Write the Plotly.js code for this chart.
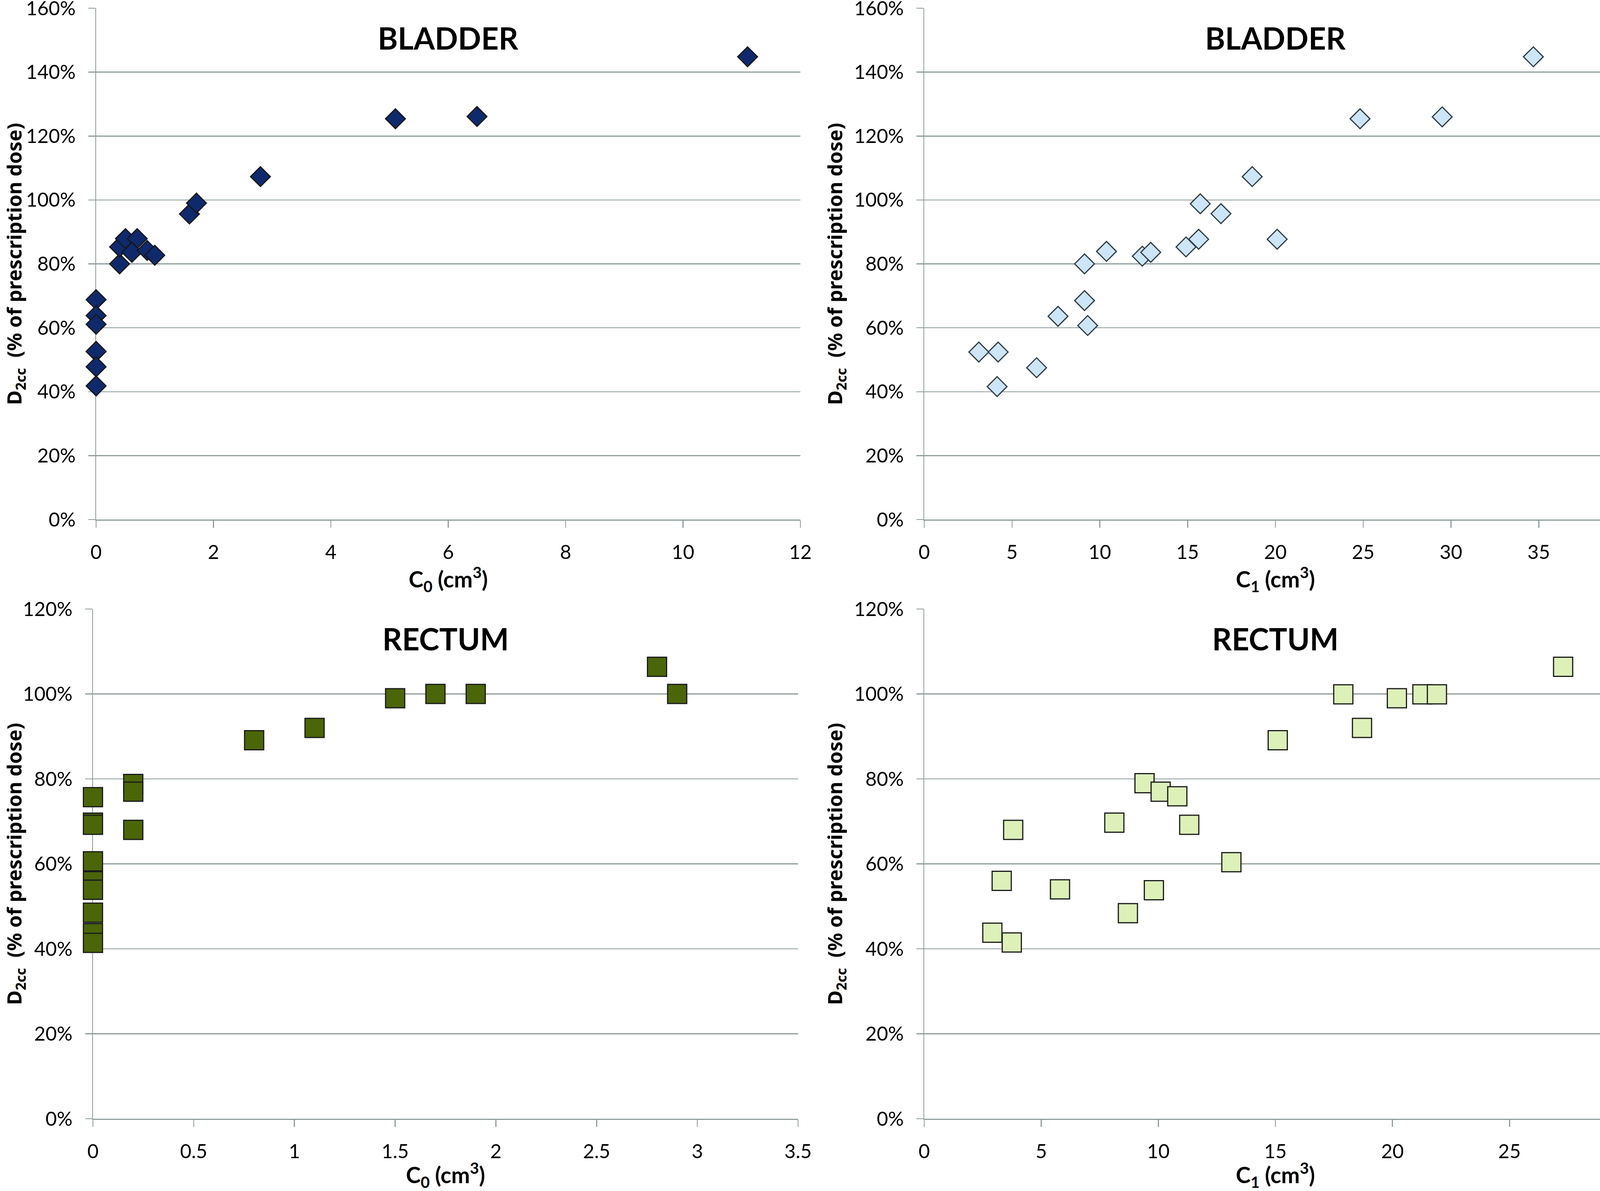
<!DOCTYPE html>
<html>
<head>
<meta charset="utf-8">
<script src="https://cdn.plot.ly/plotly-3.0.1.min.js"></script>
<style>html,body{margin:0;padding:0;background:#fff;}#chart{width:4199px;height:3049px;}</style>
</head>
<body>
<div id="chart"></div>
<script>
// Bladder: D2cc (% of prescription dose) vs C0 and C1 (cm3)
var bladderC0 = [0, 0, 0, 0, 0, 0, 0, 0.40, 0.40, 0.50, 0.70, 0.61, 0.87, 1.00, 1.59, 1.71, 2.80, 5.10, 6.49, 11.10];
var bladderD_C0 = [68.8, 63.8, 61.1, 52.6, 52.6, 47.8, 41.8, 80.0, 85.3, 87.9, 87.9, 83.6, 84.2, 82.7, 95.6, 99.0, 107.3, 125.4, 126.1, 144.8];
var bladderC1 = [3.11, 4.21, 4.15, 6.40, 7.62, 9.13, 9.13, 9.31, 10.38, 12.42, 12.90, 14.91, 15.63, 15.72, 16.90, 18.68, 20.10, 24.82, 29.50, 34.69];
var bladderD_C1 = [52.4, 52.4, 41.6, 47.5, 63.6, 80.0, 68.5, 60.7, 83.9, 82.4, 83.6, 85.3, 87.7, 98.8, 95.7, 107.3, 87.7, 125.4, 126.0, 144.8];

// Rectum: D2cc (% of prescription dose) vs C0 and C1 (cm3)
var rectumC0 = [0, 0, 0, 0, 0, 0, 0, 0, 0, 0, 0.2, 0.2, 0.2, 0.8, 1.1, 1.5, 1.7, 1.9, 2.8, 2.9];
var rectumD_C0 = [75.7, 69.7, 69.2, 60.6, 55.9, 53.9, 53.9, 48.5, 43.7, 41.4, 78.8, 77.0, 68.0, 89.1, 92.0, 99.0, 100, 100, 106.4, 100];
var rectumC1 = [27.29, 17.90, 20.19, 21.28, 21.90, 18.70, 15.10, 9.41, 10.10, 10.81, 8.12, 11.32, 3.80, 13.12, 3.31, 5.80, 9.81, 8.70, 2.91, 3.74];
var rectumD_C1 = [106.4, 99.9, 99.0, 99.9, 99.9, 92.0, 89.1, 79.0, 77.0, 75.9, 69.7, 69.2, 68.0, 60.4, 56.0, 54.0, 53.8, 48.4, 43.8, 41.5];

var panelTitles = ["BLADDER", "BLADDER", "RECTUM", "RECTUM"];
var xTitles = ["C<sub>0</sub> (cm<sup>3</sup>)", "C<sub>1</sub> (cm<sup>3</sup>)", "C<sub>0</sub> (cm<sup>3</sup>)", "C<sub>1</sub> (cm<sup>3</sup>)"];
var yTitle = "D<sub>2cc</sub>&nbsp; (% of prescription dose)";

var W = 4199, H = 3049;
var gridCol = "#8E9C9C";
var tickFont = {family: "Lato, 'Open Sans', sans-serif", size: 50, color: "#000"};

function mk(x, y, xa, ya, sym, size, fill, lc) {
  return {type: "scatter", mode: "markers", x: x, y: y, xaxis: xa, yaxis: ya, cliponaxis: false,
    marker: {symbol: sym, size: size, color: fill, line: {color: lc, width: 3}},
    hoverinfo: "x+y", showlegend: false};
}

var data = [
  mk(bladderC0, bladderD_C0, "x", "y", "diamond", 39, "#0E2A6C", "#161616"),
  mk(bladderC1, bladderD_C1, "x2", "y2", "diamond", 39, "#CDE5F8", "#2E3B44"),
  mk(rectumC0, rectumD_C0, "x3", "y3", "square", 49, "#4A6608", "#1A1A1A"),
  mk(rectumC1, rectumD_C1, "x4", "y4", "square", 49, "#DCF0B8", "#1A1A1A")
];

function px2x(a, b) { return [a / W, b / W]; }
function px2y(top, bottom) { return [1 - bottom / H, 1 - top / H]; }

function xax(dom, range, dtick, title, anchor) {
  return {domain: dom, range: range, dtick: dtick, tick0: 0, anchor: anchor, layer: "below traces",
    showgrid: false, zeroline: false, showline: true, linecolor: gridCol, linewidth: 2.5,
    ticks: "outside", ticklen: 18, tickwidth: 2.5, tickcolor: gridCol,
    tickfont: tickFont, ticklabelstandoff: 20, ticklabeloverflow: "allow",
    title: {text: title, font: {family: "Lato, 'Open Sans', sans-serif", size: 57, color: "#000", weight: "bold"}, standoff: 8},
    fixedrange: true};
}
function yax(dom, range, title, anchor) {
  return {domain: dom, range: range, dtick: 20, tick0: 0, anchor: anchor, ticksuffix: "%", layer: "below traces",
    showgrid: true, gridcolor: gridCol, gridwidth: 2.5, zeroline: false,
    showline: true, linecolor: gridCol, linewidth: 2.5,
    ticks: "outside", ticklen: 18, tickwidth: 2.5, tickcolor: gridCol,
    tickfont: tickFont, ticklabelstandoff: 22, ticklabeloverflow: "allow",
    title: {text: title, font: {family: "'Noto Sans', sans-serif", size: 51, color: "#000", weight: "bold"}, standoff: 14},
    fixedrange: true};
}

var dL = px2x(246, 2049), dR = px2x(2366, 4164), dBL = px2x(238, 2043);
var dT = px2y(21, 1330), dB = px2y(1559, 2864);

var layout = {
  width: W, height: H, margin: {l: 0, r: 0, t: 0, b: 0, pad: 0},
  paper_bgcolor: "#fff", plot_bgcolor: "#fff", showlegend: false,
  xaxis: xax(dL, [0, 12], 2, xTitles[0], "y"),
  yaxis: yax(dT, [0, 160], yTitle, "x"),
  xaxis2: xax(dR, [0, 40], 5, xTitles[1], "y2"),
  yaxis2: yax(dT, [0, 160], yTitle, "x2"),
  xaxis3: xax(dBL, [0, 3.5], 0.5, xTitles[2], "y3"),
  yaxis3: yax(dB, [0, 120], yTitle, "x3"),
  xaxis4: xax(dR, [0, 30], 5, xTitles[3], "y4"),
  yaxis4: yax(dB, [0, 120], yTitle, "x4"),
  annotations: []
};

var refs = [["x", "y"], ["x2", "y2"], ["x3", "y3"], ["x4", "y4"]];
for (var i = 0; i < 4; i++) {
  layout.annotations.push({
    text: "<b>" + panelTitles[i] + "</b>", showarrow: false,
    xref: refs[i][0] + " domain", yref: refs[i][1] + " domain",
    x: 0.5, y: 1 - 76 / 1307, xanchor: "center", yanchor: "middle",
    font: {family: "Lato, 'Open Sans', sans-serif", size: 78, color: "#000"}
  });
}

Plotly.newPlot("chart", data, layout, {staticPlot: true, displayModeBar: false});
</script>
</body>
</html>
